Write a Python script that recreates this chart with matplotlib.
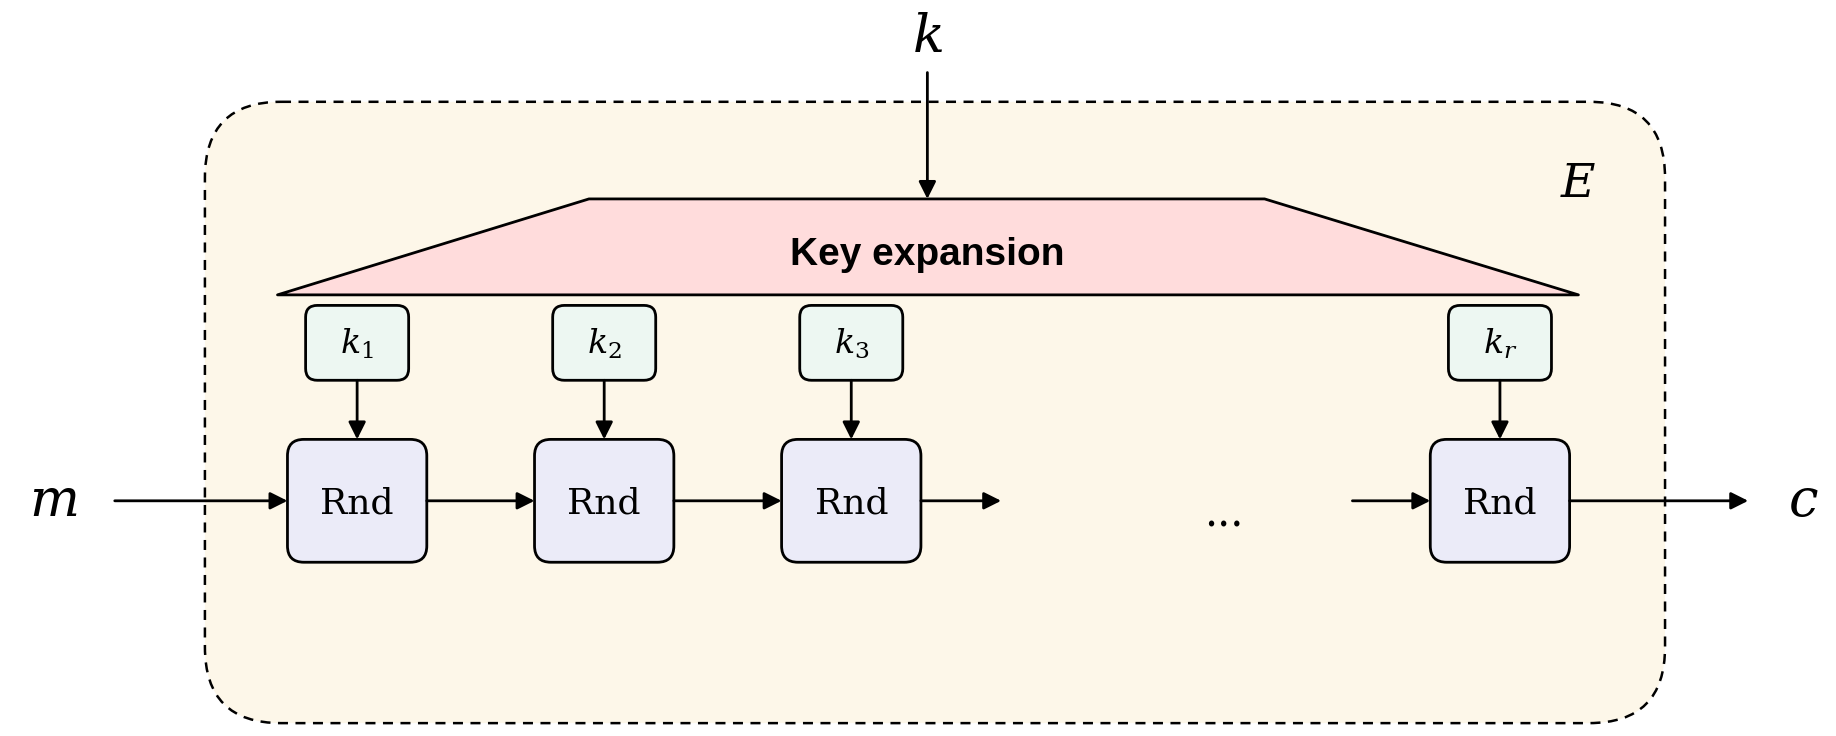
import matplotlib
matplotlib.use("Agg")
import matplotlib.pyplot as plt
from matplotlib.patches import FancyBboxPatch, Polygon

plt.rcParams["mathtext.fontset"] = "dejavuserif"

# content
KEY_LABELS = ["$k_1$", "$k_2$", "$k_3$", "$k_r$"]
ROUND_LABEL = "Rnd"
TITLE = "Key expansion"

# layout (image-like coordinates, y down)
W, H = 1568, 629
ROUND_X = [305, 516, 727, 1281]
BOX_W, BOX_H = 119, 105
KEY_W, KEY_H = 88, 64
ROW_Y = 428

fig = plt.figure(figsize=(18.36, 7.36), dpi=100, facecolor="white")
ax = fig.add_axes([0, 0, 1, 1])
ax.set_xlim(0, W)
ax.set_ylim(H, 0)
ax.axis("off")

# outer dashed box
ax.add_patch(FancyBboxPatch((175, 87), 1247, 531,
                            boxstyle="round,pad=0,rounding_size=65",
                            facecolor="#fdf7e9", edgecolor="black",
                            linewidth=1.8, linestyle=(0, (4, 3))))

# key expansion trapezoid
ax.add_patch(Polygon([(503, 170), (1080, 170), (1348, 252), (237, 252)],
                     closed=True, facecolor="#ffdcdc", edgecolor="black",
                     linewidth=2, joinstyle="round"))
ax.text(792, 218, TITLE, ha="center", va="center", fontsize=28,
        fontweight="bold", family="Liberation Sans")

arrow = dict(arrowstyle="-|>", color="black", lw=2, mutation_scale=26,
             shrinkA=0, shrinkB=0)

def arr(x0, y0, x1, y1):
    ax.annotate("", xy=(x1, y1), xytext=(x0, y0), arrowprops=arrow)

ax.text(792, 32, "$k$", ha="center", va="center", fontsize=38)
arr(792, 62, 792, 170)
ax.text(1348, 158, "$E$", ha="center", va="center", fontsize=34)

for x, lab in zip(ROUND_X, KEY_LABELS):
    ax.add_patch(FancyBboxPatch((x - KEY_W / 2, 261), KEY_W, KEY_H,
                                boxstyle="round,pad=0,rounding_size=10",
                                facecolor="#edf7f2", edgecolor="black", linewidth=2))
    ax.text(x, 294, lab, ha="center", va="center", fontsize=24)
    arr(x, 325, x, ROW_Y - BOX_H / 2)
    ax.add_patch(FancyBboxPatch((x - BOX_W / 2, ROW_Y - BOX_H / 2), BOX_W, BOX_H,
                                boxstyle="round,pad=0,rounding_size=14",
                                facecolor="#ebebf8", edgecolor="black", linewidth=2))
    ax.text(x, ROW_Y + 2, ROUND_LABEL, ha="center", va="center", fontsize=26,
            family="DejaVu Serif")

half = BOX_W / 2
ax.text(45, ROW_Y, "$m$", ha="center", va="center", fontsize=38)
arr(98, ROW_Y, ROUND_X[0] - half, ROW_Y)
arr(ROUND_X[0] + half, ROW_Y, ROUND_X[1] - half, ROW_Y)
arr(ROUND_X[1] + half, ROW_Y, ROUND_X[2] - half, ROW_Y)
arr(ROUND_X[2] + half, ROW_Y, 855, ROW_Y)
ax.text(1045, 440, "...", ha="center", va="center", fontsize=30, family="DejaVu Serif")
arr(1155, ROW_Y, ROUND_X[3] - half, ROW_Y)
arr(ROUND_X[3] + half, ROW_Y, 1493, ROW_Y)
ax.text(1540, ROW_Y, "$c$", ha="center", va="center", fontsize=38)

fig.savefig("out.png", dpi=100, facecolor="white")
